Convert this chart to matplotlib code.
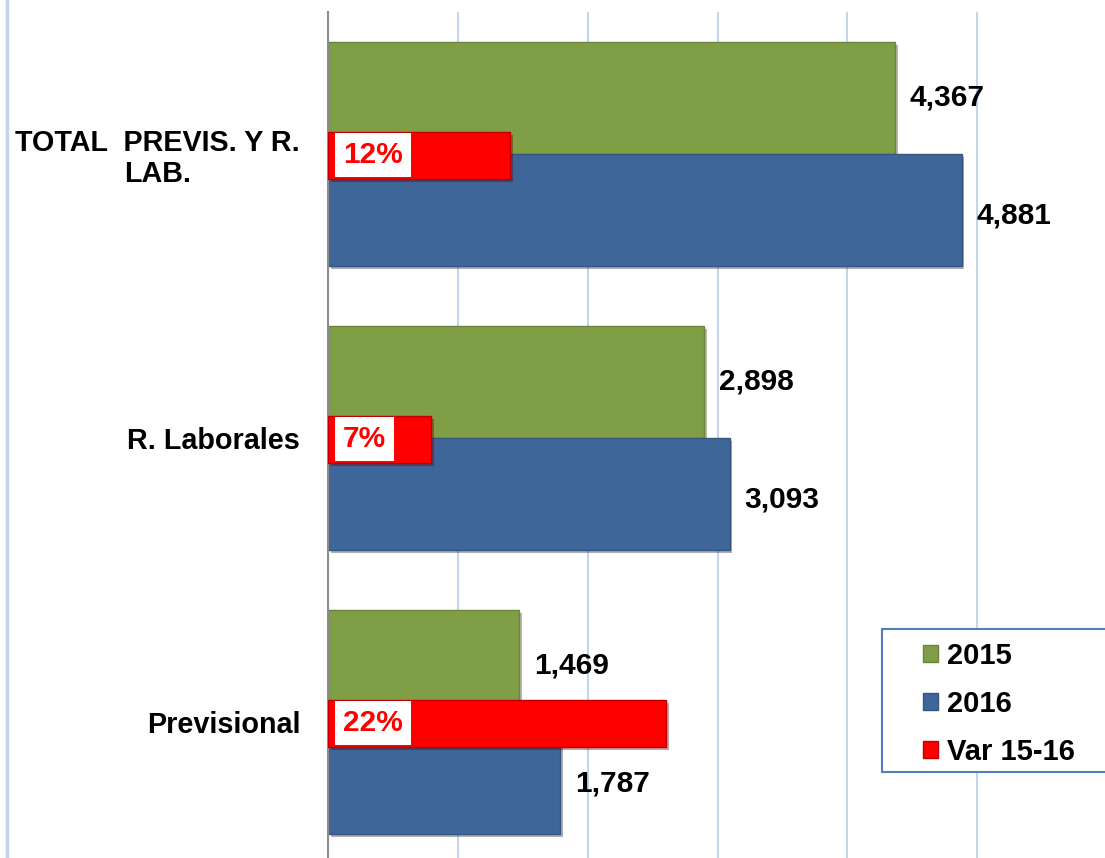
import matplotlib
matplotlib.use("Agg")
import matplotlib.pyplot as plt
import matplotlib.patheffects as pe
from matplotlib.patches import Patch, Rectangle

plt.rcParams['font.family'] = ['Liberation Sans', 'DejaVu Sans']

# Data
categories = ['Previsional', 'R. Laborales', 'TOTAL  PREVIS. Y R.\nLAB.']
values_2015 = [1469, 2898, 4367]
values_2016 = [1787, 3093, 4881]
var_15_16 = [0.217, 0.066, 0.117]

green = '#809e45'
blue = '#3e6699'
red = '#ff0000'
grid_blue = '#c2d5ec'

W, H = 1105, 858
fig = plt.figure(figsize=(W / 100, H / 100), dpi=100)
ax = fig.add_axes([328 / W, 1 - 864 / H, 779 / W, 852 / H])

y = list(range(len(categories)))
h = 0.395
shadow = [pe.SimplePatchShadow(offset=(2, -2), alpha=0.35), pe.Normal()]

bars15 = ax.barh([i + h / 2 for i in y], values_2015, height=h, color=green,
                 edgecolor='#6a8538', linewidth=1, zorder=3)
bars16 = ax.barh([i - h / 2 for i in y], values_2016, height=h, color=blue,
                 edgecolor='#34577f', linewidth=1, zorder=3)
for b in list(bars15) + list(bars16):
    b.set_path_effects(shadow)

ax.set_xlim(0, 6000)
ax.set_ylim(-0.5, 2.5)
ax.set_xticks(range(0, 6001, 1000))
ax.xaxis.grid(True, color=grid_blue, linewidth=1.5, zorder=0)
ax.set_axisbelow(True)
ax.tick_params(axis='x', length=0, labelbottom=False)
ax.tick_params(axis='y', length=0, pad=20)
ax.set_yticks(y)
ax.set_yticklabels(categories, fontsize=20.7, fontweight='bold', ha='right',
                   multialignment='center', linespacing=1.12)
for s in ['top', 'right', 'bottom']:
    ax.spines[s].set_visible(False)
ax.spines['left'].set_color('#8c8c8c')
ax.spines['left'].set_linewidth(1.5)
ax.spines['left'].set_zorder(6)

# value labels
for i, v in enumerate(values_2015):
    ax.text(v + 115, i + h / 2, f'{v:,}', va='center', ha='left',
            fontsize=21.5, fontweight='bold', zorder=5)
for i, v in enumerate(values_2016):
    ax.text(v + 115, i - h / 2 - 0.02, f'{v:,}', va='center', ha='left',
            fontsize=21.5, fontweight='bold', zorder=5)

# secondary axis for the variation
ax2 = ax.twiny()
ax2.set_xlim(0, 0.5)
ax2.axis('off')
bars_var = ax2.barh([i - 0.006 for i in y], var_15_16, height=0.166, color=red,
                    edgecolor='#c00000', linewidth=1, zorder=4)
for b in bars_var:
    b.set_path_effects(shadow)
for i, v in enumerate(var_15_16):
    ax2.text(0.0096, i - 0.005, f'{v:.0%}', va='center', ha='left', color=red,
             fontsize=21.5, fontweight='bold', zorder=7,
             bbox=dict(boxstyle='square,pad=0.27', facecolor='white',
                       edgecolor='none'))

# left border line
fig.add_artist(plt.Line2D([6.5 / W, 6.5 / W], [0, 1], color=grid_blue,
                          linewidth=2.5))

# legend with its own frame
frame = Rectangle((882 / W, 1 - 772 / H), 240 / W, 143 / H,
                  transform=fig.transFigure, facecolor='white',
                  edgecolor='#4f7fbd', linewidth=1.5, zorder=9)
fig.add_artist(frame)
handles = [Patch(facecolor=green, edgecolor='#6a8538'),
           Patch(facecolor=blue, edgecolor='#34577f'),
           Patch(facecolor=red, edgecolor='#c00000')]
leg = fig.legend(handles, ['2015', '2016', 'Var 15-16'],
                 loc='upper left', bbox_to_anchor=(923 / W, 1 - 642 / H),
                 prop={'weight': 'bold', 'size': 21}, frameon=False,
                 handlelength=0.52, handleheight=0.52,
                 handletextpad=0.3, labelspacing=0.68, borderpad=0,
                 borderaxespad=0)
leg.set_zorder(10)

fig.savefig('out.png', dpi=100)
